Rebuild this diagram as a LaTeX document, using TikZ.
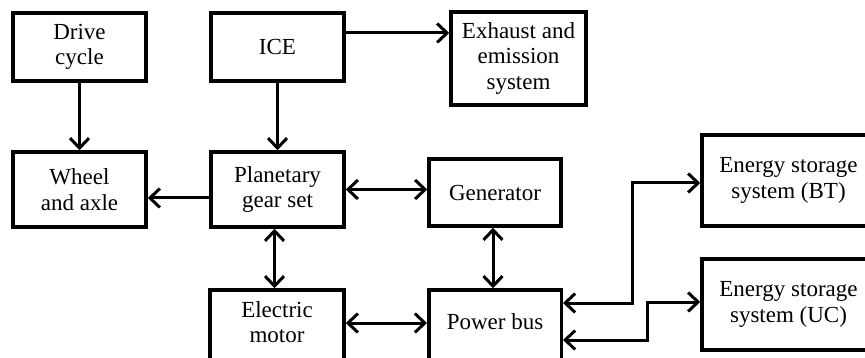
\documentclass[tikz,border=0pt]{standalone}
\usepackage{fontspec}
\setmainfont{Liberation Serif}
\usetikzlibrary{arrows.meta}
\begin{document}
\begin{tikzpicture}[x=1pt,y=-1pt,
  txt/.style={align=center, inner sep=0pt, font=\fontsize{23}{25.5}\selectfont},
  box/.style={txt, draw, line width=3.5pt, rectangle},
  tipA/.tip={Straight Barb[length=10pt,width=19pt]},
  arr/.style={line width=3pt, -tipA},
  biarr/.style={line width=3pt, tipA-tipA}]
\clip (0,0) rectangle (865,358);
\node[box, minimum width=133pt, minimum height=68pt] (drive) at (79.5,47) {Drive\\cycle};
\node[box, minimum width=133pt, minimum height=68pt] (ice) at (277.5,47) {ICE};
\node[box, minimum width=135pt, minimum height=93pt] (exh) at (518.5,58.5) {Exhaust and\\emission\\system};
\node[box, minimum width=133pt, minimum height=75pt] (wheel) at (79.5,189.5) {Wheel\\and axle};
\node[box, minimum width=133pt, minimum height=75pt] (plan) at (277.5,189.5) {Planetary\\gear set};
\node[box, minimum width=132pt, minimum height=67pt] (gen) at (495,192.5) {Generator};
\node[box, minimum width=173pt, minimum height=91pt] (bt) at (788.5,180.5) {Energy storage\\system (BT)};
\node[box, minimum width=173pt, minimum height=91pt] (uc) at (788.5,304.5) {Energy storage\\system (UC)};
\node[box, minimum width=134pt, minimum height=90pt] (em) at (277,335) {};
\node[txt] (emt) at (277,322) {Electric\\motor};
\node[box, minimum width=132.5pt, minimum height=90pt] (pb) at (495,335) {};
\node[txt] (pbt) at (495,322) {Power bus};

\draw[arr] (drive) -- (wheel);
\draw[arr] (ice) -- (plan);
\draw[arr] ([yshift=14pt]ice.east) -- ([yshift=14pt]ice.east -| exh.west);
\draw[arr] ([yshift=-8.5pt]plan.west) -- ([yshift=-8.5pt]plan.west -| wheel.east);
\draw[biarr] (plan.east) -- (plan.east -| gen.west);
\draw[biarr] ([xshift=-3pt]plan.south) -- ([xshift=-3pt]plan.south |- em.north);
\draw[biarr] ([xshift=-2pt]gen.south) -- ([xshift=-2pt]gen.south |- pb.north);
\draw[biarr] ([yshift=12pt]em.east) -- ([yshift=12pt]em.east -| pb.west);
\draw[biarr] ([yshift=32pt]pb.east) -| (632,183) -- ([yshift=-2.5pt]bt.west);
\draw[biarr] ([yshift=-5pt]pb.east) -| (647,302) -- ([yshift=2.5pt]uc.west);
\end{tikzpicture}
\end{document}
